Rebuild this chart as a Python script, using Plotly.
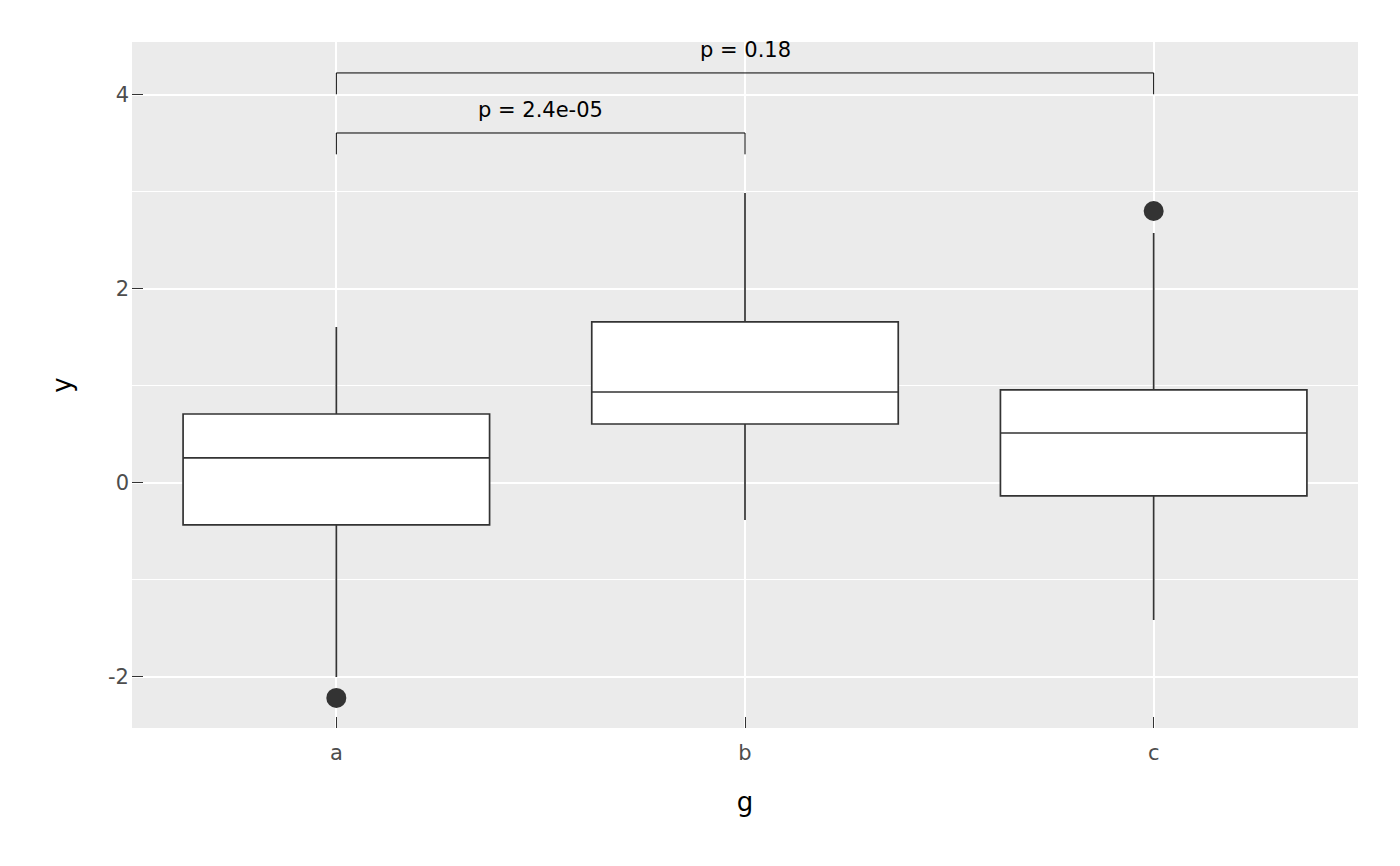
import plotly.graph_objects as go

groups = ["a", "b", "c"]
q1 = [-0.433, 0.608, -0.134]
median = [0.258, 0.938, 0.515]
q3 = [0.711, 1.660, 0.959]
lower_fence = [-2.00, -0.381, -1.412]
upper_fence = [1.608, 2.990, 2.577]
outlier_groups = ["a", "c"]
outlier_values = [-2.216, 2.804]

comp_start = ["a", "a"]
comp_end = ["b", "c"]
comp_y = [3.608, 4.227]
comp_labels = ["p = 2.4e-05", "p = 0.18"]
tip_len = 0.22

y_ticks = [-2, 0, 2, 4]
y_ticklabels = ["-2", "0", "2", "4"]

FONT = "DejaVu Sans"
idx = {g: i for i, g in enumerate(groups)}
x_pos = [idx[g] for g in groups]

fig = go.Figure()
fig.add_trace(go.Box(
    x=x_pos, q1=q1, median=median, q3=q3,
    lowerfence=lower_fence, upperfence=upper_fence,
    fillcolor="white", line=dict(color="#333333", width=1.7),
    whiskerwidth=0, width=0.75, boxpoints=False, hoverinfo="skip",
    showlegend=False,
))
fig.add_trace(go.Scatter(
    x=[idx[g] for g in outlier_groups], y=outlier_values, mode="markers",
    marker=dict(size=20, color="#333333"), showlegend=False, hoverinfo="skip",
))

for s, e, yv, lab in zip(comp_start, comp_end, comp_y, comp_labels):
    xs, xe = idx[s], idx[e]
    fig.add_trace(go.Scatter(
        x=[xs, xs, xe, xe], y=[yv - tip_len, yv, yv, yv - tip_len],
        mode="lines", line=dict(color="black", width=1), showlegend=False,
        hoverinfo="skip",
    ))
    fig.add_annotation(x=(xs + xe) / 2, y=yv, text=lab, showarrow=False,
                       yanchor="bottom", yshift=9,
                       font=dict(family=FONT, size=21, color="black"))

fig.update_layout(
    width=1384, height=850,
    margin=dict(l=124, r=34, t=34, b=130),
    plot_bgcolor="#EBEBEB", paper_bgcolor="white",
    font=dict(family=FONT),
)
fig.update_xaxes(
    type="linear", range=[-0.5, 2.5],
    tickvals=x_pos, ticktext=groups,
    showgrid=True, gridcolor="white", gridwidth=1.8, zeroline=False,
    ticks="inside", ticklen=11, tickwidth=1.2, tickcolor="#333333",
    ticklabelstandoff=10,
    tickfont=dict(family=FONT, size=21, color="#4D4D4D"),
    title=dict(text="g", font=dict(family=FONT, size=26, color="black"), standoff=28),
)
fig.update_yaxes(
    range=[-2.526, 4.546],
    tickvals=y_ticks, ticktext=y_ticklabels,
    showgrid=True, gridcolor="white", gridwidth=1.8, zeroline=False,
    ticks="inside", ticklen=11, tickwidth=1.2, tickcolor="#333333",
    ticklabelstandoff=2,
    tickfont=dict(family=FONT, size=21, color="#4D4D4D"),
    minor=dict(tickvals=[-1, 1, 3], showgrid=True, gridcolor="white", gridwidth=0.9, ticks=""),
    title=dict(text="y", font=dict(family=FONT, size=26, color="black"), standoff=28),
)
fig.write_html("out.html")
